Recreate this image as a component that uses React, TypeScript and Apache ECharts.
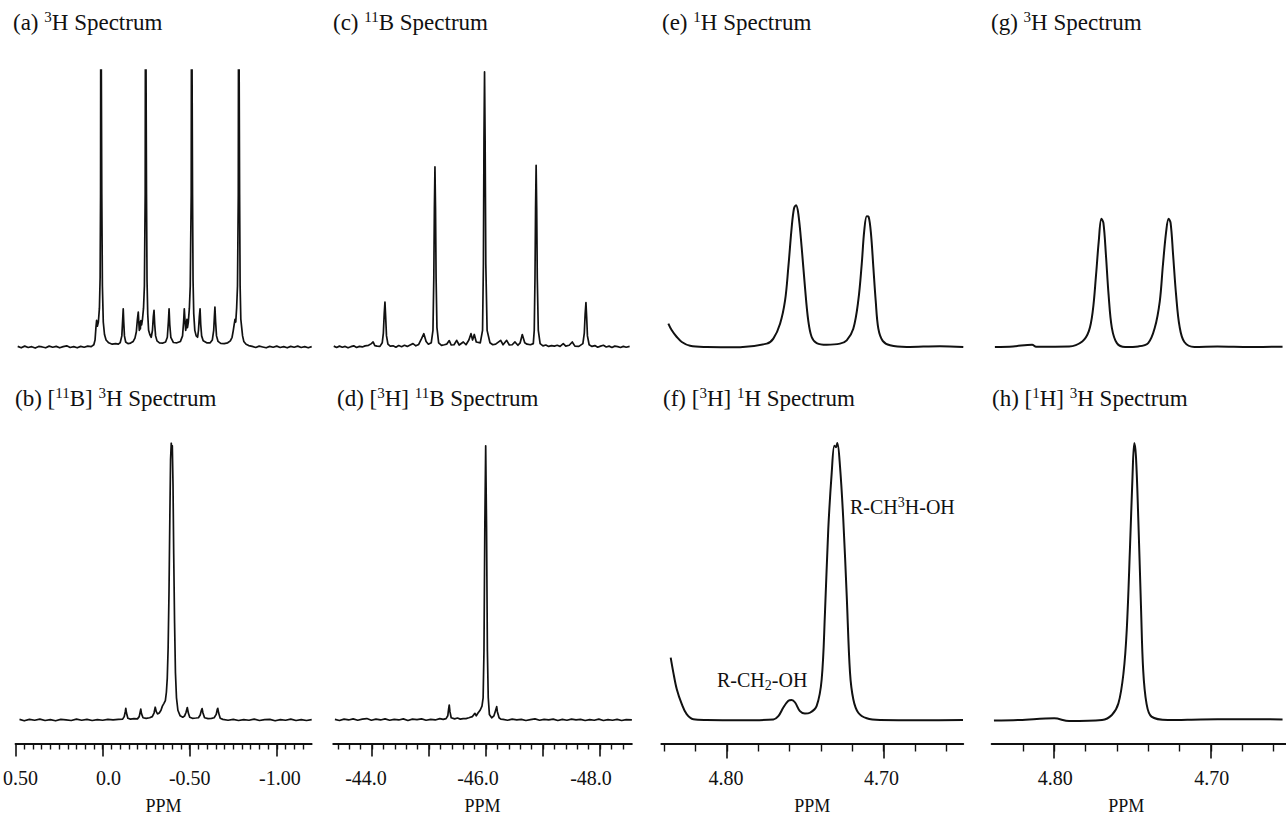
import React, { useEffect, useRef } from "react";
import * as echarts from "echarts";

const FONT = "'Liberation Serif', 'Times New Roman', Times, serif";
const INK = "#111111";

// ---------- panel titles ----------
const titleA = "(a) {sup|3}H Spectrum";
const titleB = "(b) [{sup|11}B] {sup|3}H Spectrum";
const titleC = "(c) {sup|11}B Spectrum";
const titleD = "(d) [{sup|3}H] {sup|11}B Spectrum";
const titleE = "(e) {sup|1}H Spectrum";
const titleF = "(f) [{sup|3}H] {sup|1}H Spectrum";
const titleG = "(g) {sup|3}H Spectrum";
const titleH = "(h) [{sup|1}H] {sup|3}H Spectrum";
const noteMain = "R-CH{sup|3}H-OH";
const noteMinor = "R-CH{sub|2}-OH";
const axisName = "PPM";

// ---------- axis ticks ----------
const col1Major = [0.5, 0, -0.5, -1.0];
const col1LabelValues = [0.5, 0, -0.5, -1.0];
const col1Labels = ["0.50", "0.0", "-0.50", "-1.00"];
const col1MinorStep = 0.05;

const col2Major = [-44, -45, -46, -47, -48];
const col2LabelValues = [-44, -46, -48];
const col2Labels = ["-44.0", "-46.0", "-48.0"];
const col2MinorStep = 0.2;

const col3Major = [4.8, 4.7];
const col3LabelValues = [4.8, 4.7];
const col3Labels = ["4.80", "4.70"];
const col3MinorStep = 0.02;

const col4Major = [4.8, 4.7];
const col4LabelValues = [4.8, 4.7];
const col4Labels = ["4.80", "4.70"];
const col4MinorStep = 0.02;

// ---------- spectra: [ppm, intensity] (100 = tallest peak of the lower row) ----------
const specA: number[][] = [
  [0.48, 0.2], [0.46, -0.3], [0.44, 0.3], [0.42, -0.2], [0.40, 0.1], [0.38, -0.4], [0.36, 0.2], [0.34, 0.0],
  [0.32, -0.3], [0.30, 0.3], [0.28, -0.1], [0.26, 0.2], [0.24, -0.3], [0.22, 0.1], [0.20, 0.4], [0.18, -0.2],
  [0.16, 0.1], [0.14, -0.3], [0.12, 0.2], [0.10, -0.1], [0.08, 0.3], [0.06, 0.1],
  [0.045, 0.8], [0.038, 2.5], [0.033, 7], [0.029, 9.6], [0.025, 7.5], [0.019, 9], [0.013, 14], [0.009, 25],
  [0.0065, 55], [0.005, 150], [0.002, 150], [-0.0005, 55], [-0.004, 22], [-0.009, 9], [-0.016, 4.5],
  [-0.025, 2.5], [-0.04, 1.5], [-0.06, 1.0], [-0.08, 1.2], [-0.095, 1.0], [-0.106, 1.6], [-0.115, 4],
  [-0.12, 10], [-0.123, 13.8], [-0.126, 9], [-0.13, 4], [-0.137, 1.8], [-0.15, 1.2], [-0.165, 1.4], [-0.18, 2],
  [-0.19, 3.2], [-0.198, 5.5], [-0.204, 10], [-0.209, 12.6], [-0.212, 9], [-0.215, 6], [-0.218, 9], [-0.221, 6.5],
  [-0.224, 9.5], [-0.228, 8], [-0.233, 10], [-0.239, 14], [-0.244, 22], [-0.2485, 55], [-0.2505, 150],
  [-0.2535, 150], [-0.256, 55], [-0.259, 24], [-0.263, 12], [-0.268, 6], [-0.275, 4.5], [-0.283, 3.5],
  [-0.29, 6], [-0.295, 11], [-0.299, 13.2], [-0.303, 8], [-0.308, 4], [-0.316, 2.2], [-0.33, 1.5], [-0.35, 1.4],
  [-0.365, 1.8], [-0.375, 3.5], [-0.381, 9], [-0.385, 13.8], [-0.389, 8], [-0.395, 3.5], [-0.41, 1.6],
  [-0.43, 1.5], [-0.45, 2], [-0.462, 4], [-0.468, 9], [-0.472, 13.8], [-0.476, 9.5], [-0.48, 6], [-0.484, 8],
  [-0.487, 10], [-0.49, 7], [-0.495, 9], [-0.501, 14], [-0.506, 22], [-0.5115, 55], [-0.5135, 150],
  [-0.5165, 150], [-0.519, 55], [-0.522, 24], [-0.526, 12], [-0.532, 6], [-0.54, 4], [-0.548, 3.5], [-0.553, 6],
  [-0.558, 11], [-0.562, 13.8], [-0.566, 8], [-0.571, 4], [-0.58, 2.2], [-0.6, 1.5], [-0.62, 1.5], [-0.632, 2.5],
  [-0.64, 6], [-0.644, 11], [-0.647, 14.4], [-0.651, 9], [-0.656, 4], [-0.665, 2], [-0.68, 1.3], [-0.7, 1.2],
  [-0.72, 1.5], [-0.735, 2.2], [-0.745, 3.5], [-0.752, 6], [-0.758, 8.5], [-0.762, 10], [-0.766, 9],
  [-0.771, 14], [-0.776, 22], [-0.7805, 55], [-0.7825, 150], [-0.7855, 150], [-0.788, 55], [-0.791, 22],
  [-0.795, 10], [-0.8, 7], [-0.805, 4], [-0.812, 2], [-0.825, 1], [-0.84, 0.5], [-0.86, 0.2],
  [-0.88, -0.2], [-0.90, 0.3], [-0.92, 0.0], [-0.94, -0.3], [-0.96, 0.2], [-0.98, -0.1], [-1.00, 0.3],
  [-1.02, -0.2], [-1.04, 0.1], [-1.06, -0.3], [-1.08, 0.2], [-1.10, -0.1], [-1.12, 0.3], [-1.14, -0.2],
  [-1.16, 0.1], [-1.18, -0.3], [-1.2, 0.1],
];

const specB: number[][] = [
  [0.477, 0.2], [0.45, -0.3], [0.42, 0.2], [0.39, -0.1], [0.36, 0.3], [0.33, -0.2], [0.30, 0.1], [0.27, -0.3],
  [0.24, 0.2], [0.21, 0.0], [0.18, -0.2], [0.15, 0.3], [0.12, -0.1], [0.09, 0.2], [0.06, -0.2], [0.03, 0.1],
  [0.0, -0.1], [-0.03, 0.2], [-0.06, 0.0], [-0.09, 0.2],
  [-0.115, 0.3], [-0.124, 1.2], [-0.13, 3], [-0.133, 4.2], [-0.137, 2.5], [-0.145, 0.6], [-0.16, 0.3],
  [-0.18, 0.5], [-0.2, 0.4], [-0.21, 1.2], [-0.216, 3], [-0.219, 3.9], [-0.223, 2.3], [-0.232, 0.8],
  [-0.25, 0.6], [-0.27, 0.8], [-0.285, 1.2], [-0.295, 2.5], [-0.302, 4.6], [-0.308, 3], [-0.315, 2.2],
  [-0.325, 2.5], [-0.335, 3.5], [-0.343, 5], [-0.352, 6], [-0.36, 7], [-0.366, 10], [-0.371, 15],
  [-0.376, 26], [-0.381, 46], [-0.386, 74], [-0.39, 94], [-0.394, 100], [-0.397, 97], [-0.4, 99],
  [-0.404, 85], [-0.408, 60], [-0.413, 35], [-0.418, 17], [-0.424, 8], [-0.432, 3.5], [-0.445, 1.5],
  [-0.46, 1], [-0.47, 1.4], [-0.479, 2.8], [-0.486, 4.5], [-0.492, 2.5], [-0.5, 1], [-0.515, 0.6],
  [-0.535, 0.7], [-0.55, 0.8], [-0.56, 1.8], [-0.567, 3.5], [-0.571, 4.1], [-0.576, 2.5], [-0.585, 0.8],
  [-0.605, 0.5], [-0.625, 0.6], [-0.64, 0.8], [-0.652, 2], [-0.658, 3.8], [-0.661, 4.2], [-0.666, 2.5],
  [-0.675, 0.6], [-0.69, 0.2],
  [-0.72, -0.1], [-0.75, 0.2], [-0.78, -0.2], [-0.81, 0.1], [-0.84, -0.1], [-0.87, 0.3], [-0.9, -0.2],
  [-0.93, 0.1], [-0.96, 0.2], [-0.99, -0.3], [-1.02, 0.1], [-1.05, -0.1], [-1.08, 0.3], [-1.11, -0.2],
  [-1.14, 0.1], [-1.17, -0.2], [-1.2, 0.1],
];

const specC: number[][] = [
  [-43.33, 0.3], [-43.38, -0.2], [-43.43, 0.3], [-43.48, -0.1], [-43.53, 0.2], [-43.58, -0.3], [-43.63, 0.1],
  [-43.68, 0.4], [-43.73, -0.2], [-43.78, 0.2], [-43.83, 0.0], [-43.88, 0.4], [-43.94, 0.6], [-43.99, 1.2],
  [-44.02, 1.8], [-44.05, 0.5], [-44.09, 0.3], [-44.14, 0.2], [-44.18, 1.5], [-44.2, 5], [-44.215, 12],
  [-44.228, 16.2], [-44.24, 11], [-44.255, 4], [-44.28, 1], [-44.32, 0.3], [-44.37, 0.4], [-44.42, -0.1],
  [-44.47, 0.5], [-44.52, 0.1], [-44.57, 0.6], [-44.62, 0.2], [-44.67, 0.7], [-44.72, 1.2], [-44.77, 0.4],
  [-44.82, 0.9], [-44.87, 3], [-44.91, 4.8], [-44.95, 2], [-44.99, 1], [-45.04, 1.5], [-45.07, 6],
  [-45.085, 25], [-45.095, 50], [-45.105, 65], [-45.115, 50], [-45.125, 25], [-45.14, 7], [-45.17, 1.5],
  [-45.22, 0.6], [-45.27, 0.8], [-45.31, 1.0], [-45.356, 2.3], [-45.39, 0.7], [-45.44, 0.8], [-45.486, 2.4],
  [-45.53, 0.7], [-45.602, 1.8], [-45.65, 0.8], [-45.7, 2.5], [-45.737, 4.8], [-45.765, 2.5], [-45.795, 4.5],
  [-45.83, 1.8], [-45.9, 1.5], [-45.94, 6], [-45.955, 30], [-45.965, 75], [-45.975, 99.3], [-45.985, 75],
  [-45.997, 30], [-46.02, 6], [-46.07, 1.5], [-46.12, 0.8], [-46.17, 1.0], [-46.258, 2.4], [-46.3, 0.8],
  [-46.363, 2.4], [-46.41, 0.7], [-46.46, 0.8], [-46.509, 1.8], [-46.56, 0.6], [-46.6, 1.5], [-46.637, 4.5],
  [-46.68, 1.5], [-46.72, 1.0], [-46.78, 0.8], [-46.83, 1.2], [-46.847, 6], [-46.86, 25], [-46.87, 50],
  [-46.88, 65.6], [-46.89, 50], [-46.9, 25], [-46.918, 6], [-46.95, 1.2], [-47.0, 0.4], [-47.05, 0.7],
  [-47.1, 0.2], [-47.15, 0.5], [-47.2, 0.3], [-47.25, 0.6], [-47.3, 0.2], [-47.356, 1.2], [-47.4, 0.3],
  [-47.46, 0.6], [-47.514, 1.8], [-47.56, 0.3], [-47.63, 0.2], [-47.7, 1.2], [-47.725, 5], [-47.74, 12],
  [-47.754, 16], [-47.766, 11], [-47.78, 4], [-47.81, 0.8], [-47.86, 0.2], [-47.91, 0.5], [-47.96, -0.1],
  [-48.01, 0.3], [-48.06, 0.6], [-48.11, 0.0], [-48.16, 0.3], [-48.21, -0.2], [-48.26, 0.3], [-48.31, 0.1],
  [-48.36, -0.2], [-48.41, 0.2], [-48.46, -0.1], [-48.52, 0.2],
];

const specD: number[][] = [
  [-43.35, 0.2], [-43.43, -0.2], [-43.51, 0.3], [-43.59, 0.0], [-43.67, 0.4], [-43.75, -0.1], [-43.83, 0.3],
  [-43.91, 0.5], [-43.99, -0.1], [-44.07, 0.3], [-44.15, 0.0], [-44.23, 0.4], [-44.31, -0.1], [-44.39, 0.2],
  [-44.47, 0.0], [-44.55, 0.4], [-44.63, -0.2], [-44.71, 0.3], [-44.79, 0.1], [-44.87, 0.4], [-44.95, -0.1],
  [-45.03, 0.2], [-45.11, 0.0], [-45.19, 0.5], [-45.25, 0.2],
  [-45.3, 0.5], [-45.33, 1.5], [-45.345, 4], [-45.356, 5.4], [-45.368, 3], [-45.39, 0.8], [-45.45, 0.4],
  [-45.5, 0.7], [-45.55, 0.3], [-45.6, 0.5], [-45.65, 0.5], [-45.7, 0.8], [-45.76, 1.2], [-45.79, 2],
  [-45.807, 2.4], [-45.83, 1.5], [-45.86, 2.5], [-45.9, 3.6], [-45.93, 5], [-45.95, 8], [-45.965, 25],
  [-45.98, 70], [-45.995, 99], [-46.01, 70], [-46.025, 25], [-46.04, 8], [-46.06, 2], [-46.1, 0.8],
  [-46.14, 1.5], [-46.17, 3.5], [-46.188, 4.8], [-46.2, 3], [-46.23, 0.8], [-46.26, 0.3],
  [-46.3, 0.2], [-46.38, -0.1], [-46.46, 0.3], [-46.54, 0.0], [-46.62, 0.2], [-46.7, -0.2], [-46.78, 0.1],
  [-46.86, 0.4], [-46.94, -0.1], [-47.02, 0.2], [-47.1, 0.0], [-47.18, 0.3], [-47.26, -0.2], [-47.34, 0.2],
  [-47.42, -0.1], [-47.5, 0.3], [-47.58, 0.0], [-47.66, 0.2], [-47.74, -0.2], [-47.82, 0.1], [-47.9, -0.1],
  [-47.98, 0.3], [-48.06, -0.2], [-48.14, 0.1], [-48.22, -0.1], [-48.3, 0.2], [-48.38, -0.2], [-48.46, 0.1],
  [-48.56, 0.0],
];

const specE: number[][] = [
  [4.8375, 8.45], [4.8353, 6.0], [4.8321, 3.6], [4.8289, 1.8], [4.8236, 0.4], [4.813, 0.0], [4.7917, -0.1],
  [4.7746, 1.2], [4.7704, 3.0], [4.7661, 8.4], [4.7629, 16.8], [4.7608, 28.9], [4.7587, 43.0], [4.7572, 50.0],
  [4.7559, 51.2], [4.7544, 48.0], [4.7523, 36.0], [4.7502, 21.7], [4.7481, 9.6], [4.7459, 3.6], [4.7427, 1.4],
  [4.7363, 0.8], [4.7278, 1.2], [4.7235, 2.4], [4.7193, 6.6], [4.7161, 16.8], [4.7139, 30.0], [4.7123, 42.0],
  [4.7107, 47.2], [4.7095, 47.0], [4.708, 40.9], [4.7065, 28.9], [4.705, 16.8], [4.7033, 6.6], [4.7005, 2.2],
  [4.6958, 0.6], [4.6852, 0.0], [4.6639, 0.3], [4.649, 0.0],
];

const specF: number[][] = [
  [4.836, 22.5], [4.8343, 17.1], [4.8321, 11.1], [4.8289, 5.7], [4.8258, 2.1], [4.8215, 0.25], [4.813, 0.0],
  [4.79, -0.1], [4.7704, 0.2], [4.7672, 1.4], [4.764, 4.5], [4.7608, 6.9], [4.7587, 7.2], [4.7565, 6.3],
  [4.7534, 3.2], [4.7502, 2.3], [4.747, 2.6], [4.7427, 5.1], [4.7395, 14.7], [4.7374, 38.7], [4.7353, 68.8],
  [4.7331, 89.2], [4.7314, 99.0], [4.7304, 98.5], [4.7295, 100], [4.7278, 91.6], [4.7257, 72.4],
  [4.7235, 44.8], [4.7214, 17.1], [4.7193, 7.5], [4.7161, 2.6], [4.7107, 0.6], [4.7022, 0.0], [4.6746, -0.1],
  [4.6492, 0.0],
];

const specG: number[][] = [
  [4.8379, 0.0], [4.8263, 0.2], [4.8141, 0.8], [4.8116, 0.1], [4.7905, 0.2], [4.7821, 2.0], [4.7779, 5.7],
  [4.7754, 12.9], [4.7733, 26.0], [4.7716, 38.0], [4.7699, 46.3], [4.7686, 44.8], [4.767, 33.3],
  [4.7653, 18.9], [4.7632, 6.9], [4.76, 1.4], [4.7547, 0.0], [4.7463, 0.2], [4.74, 1.4], [4.7358, 6.9],
  [4.7326, 16.5], [4.7306, 29.6], [4.7285, 41.8], [4.727, 46.3], [4.7257, 44.8], [4.7241, 33.3],
  [4.7222, 18.9], [4.72, 7.5], [4.7169, 1.8], [4.7105, 0.0], [4.6958, 0.2], [4.6748, 0.0], [4.6542, 0.1],
];

const specH: number[][] = [
  [4.8385, -0.2], [4.8221, 0.0], [4.8, 0.6], [4.7905, -0.4], [4.7695, 0.0], [4.7632, 1.8], [4.759, 6.0],
  [4.7558, 16.8], [4.7537, 32.5], [4.7516, 62.6], [4.7501, 86.6], [4.7489, 100], [4.7478, 95.0],
  [4.7463, 72.2], [4.7446, 40.9], [4.7432, 18.0], [4.7411, 6.0], [4.7379, 1.2], [4.7274, 0.0],
  [4.7064, 0.2], [4.6853, 0.3], [4.6542, 0.2],
];

// ---------- layout ----------
// labelShift: horizontal nudge (px) of each tick label relative to its tick, as typeset in the original
const COLS = [
  { ppmMax: 0.5, ppmMin: -1.2, left: 14.2, right: 311.7, major: col1Major, labelValues: col1LabelValues, labels: col1Labels, labelShift: [5, 6, 0, 3], minorStep: col1MinorStep, tickLong: 13, tickShort: 6, namePad: 0 },
  { ppmMax: -43.32, ppmMin: -48.56, left: 333.2, right: 631.9, major: col2Major, labelValues: col2LabelValues, labels: col2Labels, labelShift: [-6, -8, -9], minorStep: col2MinorStep, tickLong: 13, tickShort: 6, namePad: 0 },
  { ppmMax: 4.842, ppmMin: 4.649, left: 661.3, right: 963.3, major: col3Major, labelValues: col3LabelValues, labels: col3Labels, labelShift: [-1, -2], minorStep: col3MinorStep, tickLong: 15, tickShort: 8, namePad: 0 },
  { ppmMax: 4.84, ppmMin: 4.652, left: 991.6, right: 1289.4, major: col4Major, labelValues: col4LabelValues, labels: col4Labels, labelShift: [1, 1], minorStep: col4MinorStep, tickLong: 15, tickShort: 8, namePad: 25 },
];

const PANELS = [
  { title: titleA, data: specA, col: 0, row: 0, tx: 13, smooth: false, lw: 1.7 },
  { title: titleB, data: specB, col: 0, row: 1, tx: 15, smooth: false, lw: 1.7 },
  { title: titleC, data: specC, col: 1, row: 0, tx: 333, smooth: false, lw: 1.7 },
  { title: titleD, data: specD, col: 1, row: 1, tx: 337, smooth: false, lw: 1.7 },
  { title: titleE, data: specE, col: 2, row: 0, tx: 662, smooth: true, lw: 2 },
  { title: titleF, data: specF, col: 2, row: 1, tx: 663, smooth: true, lw: 2 },
  { title: titleG, data: specG, col: 3, row: 0, tx: 991, smooth: true, lw: 2 },
  { title: titleH, data: specH, col: 3, row: 1, tx: 992, smooth: true, lw: 2 },
];

const ROW_TOP = [70, 443];
const ROW_TITLE_TOP = [9, 385];
const Y_MIN = -8.5;
const Y_MAX = 100;
const ROW_HEIGHT = 300.5;
const LABEL_SIZE = 20;

function textStyle(size: number, supSize: number, lineHeight: number) {
  const small = supSize + 1;
  return {
    fontFamily: FONT,
    fontSize: size,
    fontWeight: "normal",
    color: INK,
    lineHeight,
    rich: {
      sup: { fontFamily: FONT, fontSize: supSize, lineHeight: small, verticalAlign: "top", color: INK },
      sub: { fontFamily: FONT, fontSize: supSize, lineHeight: small, verticalAlign: "bottom", color: INK },
    },
  };
}

function minorTicks(min: number, max: number, step: number) {
  const out: number[] = [];
  const start = Math.ceil(min / step - 1e-6);
  const end = Math.floor(max / step + 1e-6);
  for (let k = start; k <= end; k++) {
    const v = Math.round(k * step * 10000) / 10000;
    if (v > min + 1e-6 && v < max - 1e-6) out.push(v);
  }
  return out;
}

function labelRich(shifts: number[]) {
  const rich: Record<string, any> = {};
  shifts.forEach((dx, k) => {
    rich["l" + k] = {
      fontFamily: FONT,
      fontSize: LABEL_SIZE,
      color: INK,
      padding: [0, dx < 0 ? -2 * dx : 0, 0, dx > 0 ? 2 * dx : 0],
    };
  });
  return rich;
}

function buildOption() {
  const grid: any[] = [];
  const xAxis: any[] = [];
  const yAxis: any[] = [];
  const series: any[] = [];
  const title: any[] = [];

  PANELS.forEach((p, i) => {
    const c = COLS[p.col];
    grid.push({ left: c.left, top: ROW_TOP[p.row], width: c.right - c.left, height: ROW_HEIGHT });
    yAxis.push({ type: "value", gridIndex: i, min: Y_MIN, max: Y_MAX, show: false });
    const base = {
      type: "value",
      gridIndex: i,
      min: c.ppmMin,
      max: c.ppmMax,
      inverse: true,
      position: "bottom",
      splitLine: { show: false },
    };
    const xi = xAxis.length;
    if (p.row === 0) {
      xAxis.push({ ...base, show: false });
    } else {
      xAxis.push({
        ...base,
        axisLine: { show: true, onZero: false, lineStyle: { color: INK, width: 1.8 } },
        axisTick: { show: true, customValues: c.major, length: c.tickLong, lineStyle: { color: INK, width: 1.6 } },
        axisLabel: {
          show: true,
          customValues: c.labelValues,
          margin: 24,
          fontFamily: FONT,
          fontSize: LABEL_SIZE,
          color: INK,
          rich: labelRich(c.labelShift),
          formatter: (v: number) => {
            const k = c.labelValues.findIndex((lv) => Math.abs(lv - v) < 1e-6);
            return k >= 0 ? "{l" + k + "|" + c.labels[k] + "}" : "";
          },
        },
        name: axisName,
        nameLocation: "middle",
        nameGap: 53,
        nameTextStyle: { fontFamily: FONT, fontSize: 18, color: INK, padding: [0, c.namePad, 0, 0] },
      });
      xAxis.push({
        ...base,
        axisLine: { show: false, onZero: false },
        axisTick: { show: true, customValues: minorTicks(c.ppmMin, c.ppmMax, c.minorStep), length: c.tickShort, lineStyle: { color: INK, width: 1.4 } },
        axisLabel: { show: false },
      });
    }
    series.push({
      type: "line",
      xAxisIndex: xi,
      yAxisIndex: i,
      data: p.data,
      showSymbol: false,
      symbol: "none",
      smooth: p.smooth ? 0.35 : false,
      clip: true,
      silent: true,
      lineStyle: { color: INK, width: p.lw, join: "round" },
    });
    title.push({
      text: p.title,
      left: p.tx,
      top: ROW_TITLE_TOP[p.row],
      padding: 0,
      textStyle: textStyle(23, 15, 26),
    });
  });

  title.push({ text: noteMain, left: 850, top: 495, padding: 0, textStyle: textStyle(20, 14, 24) });
  title.push({ text: noteMinor, left: 717, top: 668, padding: 0, textStyle: textStyle(20, 14, 24) });

  return {
    animation: false,
    backgroundColor: "#ffffff",
    title,
    grid,
    xAxis,
    yAxis,
    series,
  };
}

export default function App() {
  const ref = useRef<HTMLDivElement>(null);
  useEffect(() => {
    if (!ref.current) return;
    const chart = echarts.init(ref.current, undefined, { renderer: "svg" });
    chart.setOption(buildOption() as any);
    return () => chart.dispose();
  }, []);
  return (
    <div
      ref={ref}
      style={{ position: "fixed", left: 0, top: 0, width: 1286, height: 817, background: "#ffffff" }}
    />
  );
}
